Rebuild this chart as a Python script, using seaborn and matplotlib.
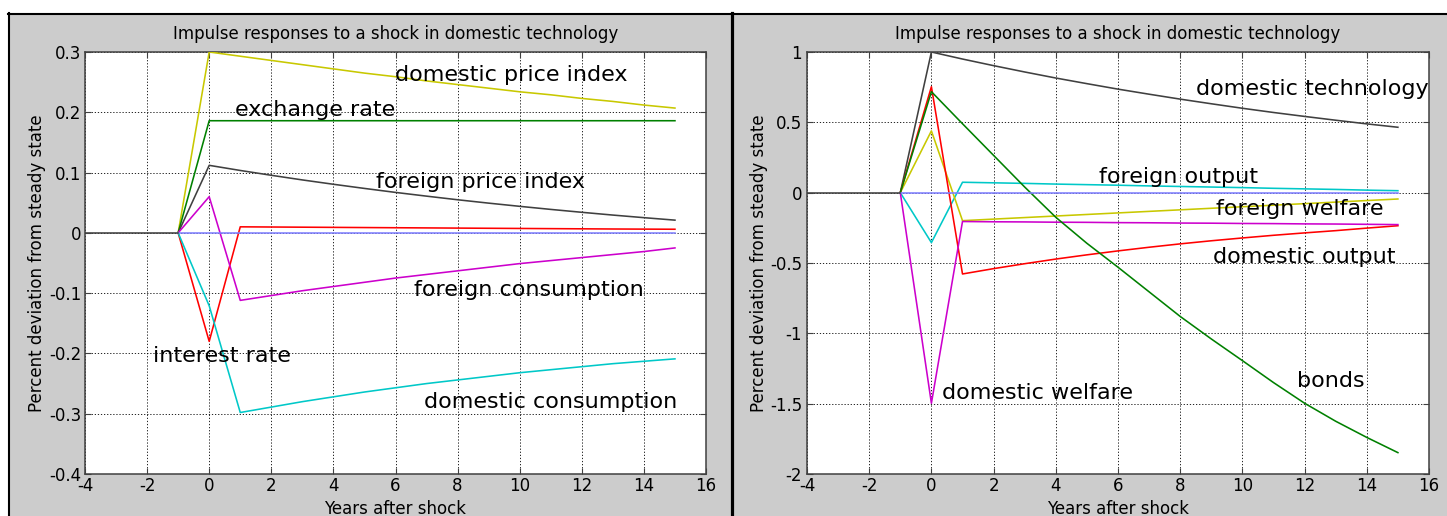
import matplotlib
matplotlib.use("Agg")
import matplotlib.pyplot as plt
import seaborn as sns
import pandas as pd
from matplotlib.lines import Line2D
from matplotlib.patches import Rectangle

# ---- data: responses by year after the shock (year -1 is the steady state) ----
years = [-1, 0, 1, 2, 3, 4, 5, 6, 7, 8, 9, 10, 11, 12, 13, 14, 15]
pre_years = [-4, -3, -2, -1]
pre_values = [0, 0, 0, 0]

# left panel: prices, exchange rate, interest rate, consumption
domestic_price_index = [0, 0.300, 0.293, 0.286, 0.279, 0.272, 0.265, 0.259, 0.252,
                        0.246, 0.240, 0.234, 0.229, 0.223, 0.218, 0.212, 0.207]
exchange_rate = [0, 0.186, 0.186, 0.186, 0.186, 0.186, 0.186, 0.186, 0.186,
                 0.186, 0.186, 0.186, 0.186, 0.186, 0.186, 0.186, 0.186]
foreign_price_index = [0, 0.112, 0.1035, 0.0955, 0.0878, 0.0806, 0.0737, 0.0671, 0.0609,
                       0.0549, 0.0493, 0.0440, 0.0389, 0.0341, 0.0295, 0.0252, 0.0211]
interest_rate = [0, -0.180, 0.0100, 0.0097, 0.0094, 0.0091, 0.0088, 0.0085, 0.0082,
                 0.0079, 0.0076, 0.0073, 0.0070, 0.0067, 0.0064, 0.0062, 0.0060]
foreign_consumption = [0, 0.060, -0.112, -0.104, -0.096, -0.089, -0.082, -0.075, -0.069,
                       -0.063, -0.057, -0.051, -0.046, -0.041, -0.036, -0.031, -0.025]
domestic_consumption = [0, -0.121, -0.298, -0.289, -0.280, -0.272, -0.264, -0.257, -0.250,
                        -0.244, -0.238, -0.232, -0.227, -0.222, -0.217, -0.213, -0.209]
flat_left = [0, 0, 0, 0, 0, 0, 0, 0, 0, 0, 0, 0, 0, 0, 0, 0, 0]

# right panel: technology, output, welfare, bonds
domestic_technology = [0, 1.000, 0.950, 0.903, 0.858, 0.815, 0.775, 0.736, 0.700,
                       0.665, 0.632, 0.600, 0.570, 0.542, 0.515, 0.489, 0.465]
foreign_output = [0, -0.355, 0.074, 0.070, 0.066, 0.061, 0.057, 0.053, 0.048,
                  0.044, 0.040, 0.036, 0.031, 0.027, 0.023, 0.018, 0.014]
foreign_welfare = [0, 0.439, -0.199, -0.188, -0.177, -0.166, -0.155, -0.144, -0.133,
                   -0.122, -0.111, -0.100, -0.089, -0.078, -0.067, -0.056, -0.045]
domestic_output = [0, 0.753, -0.578, -0.540, -0.505, -0.472, -0.442, -0.414, -0.388,
                   -0.364, -0.342, -0.322, -0.303, -0.286, -0.270, -0.252, -0.235]
domestic_welfare = [0, -1.497, -0.205, -0.207, -0.208, -0.210, -0.211, -0.213, -0.214,
                    -0.216, -0.217, -0.219, -0.220, -0.222, -0.223, -0.225, -0.227]
bonds = [0, 0.718, 0.490, 0.265, 0.040, -0.175, -0.360, -0.530, -0.705,
         -0.880, -1.040, -1.194, -1.350, -1.497, -1.625, -1.740, -1.848]
flat_right = [0, 0, 0, 0, 0, 0, 0, 0, 0, 0, 0, 0, 0, 0, 0, 0, 0]

left_names = ["domestic price index", "exchange rate", "foreign price index",
              "interest rate", "foreign consumption", "domestic consumption", "zero"]
left_values = [domestic_price_index, exchange_rate, foreign_price_index,
               interest_rate, foreign_consumption, domestic_consumption, flat_left]
right_names = ["domestic technology", "foreign output", "foreign welfare",
               "domestic output", "domestic welfare", "bonds", "zero"]
right_values = [domestic_technology, foreign_output, foreign_welfare,
                domestic_output, domestic_welfare, bonds, flat_right]

left_ticks = [-0.4, -0.3, -0.2, -0.1, 0, 0.1, 0.2, 0.3]
left_ticklabels = ["-0.4", "-0.3", "-0.2", "-0.1", "0", "0.1", "0.2", "0.3"]
right_ticks = [-2, -1.5, -1, -0.5, 0, 0.5, 1]
right_ticklabels = ["-2", "-1.5", "-1", "-0.5", "0", "0.5", "1"]
x_ticks = [-4, -2, 0, 2, 4, 6, 8, 10, 12, 14, 16]
x_ticklabels = ["-4", "-2", "0", "2", "4", "6", "8", "10", "12", "14", "16"]

# ---- styling ----
YELLOW, GREEN, GREY = "#c8c800", "#008000", "#404040"
RED, MAGENTA, CYAN, BLUE = "#ff0000", "#cc00cc", "#00c8c8", "#8080ff"

left_palette = {"domestic price index": YELLOW, "exchange rate": GREEN,
                "foreign price index": GREY, "interest rate": RED,
                "foreign consumption": MAGENTA, "domestic consumption": CYAN,
                "zero": BLUE}
right_palette = {"domestic technology": GREY, "foreign output": CYAN,
                 "foreign welfare": YELLOW, "domestic output": RED,
                 "domestic welfare": MAGENTA, "bonds": GREEN, "zero": BLUE}

# label text and its (x, y) anchor in data units
left_labels = [("domestic price index", 9.74, 0.252),
               ("exchange rate", 3.41, 0.194),
               ("foreign price index", 8.74, 0.0745),
               ("foreign consumption", 10.3, -0.105),
               ("interest rate", 0.41, -0.2136),
               ("domestic consumption", 10.99, -0.290)]
right_labels = [("domestic technology", 12.25, 0.694),
                ("foreign output", 7.96, 0.0666),
                ("foreign welfare", 11.86, -0.159),
                ("domestic output", 12.0, -0.502),
                ("bonds", 12.85, -1.384),
                ("domestic welfare", 3.40, -1.469)]

plt.rcParams["font.family"] = ["DejaVu Sans"]

W, H = 1447, 516
fig = plt.figure(figsize=(W / 100, H / 100), dpi=100, facecolor="white")

# window frames: grey backgrounds with black borders
fig.add_artist(Rectangle((8 / W, 0), 1 - 8 / W, 1 - 13 / H, transform=fig.transFigure,
                         facecolor="#cccccc", edgecolor="none", zorder=0))
fig.add_artist(Line2D([8 / W, 1], [1 - 14 / H, 1 - 14 / H], transform=fig.transFigure,
                      color="black", lw=1.5))
fig.add_artist(Line2D([9 / W, 9 / W], [0, 1 - 13 / H], transform=fig.transFigure,
                      color="black", lw=1.5))
fig.add_artist(Line2D([731.5 / W, 731.5 / W], [0, 1 - 13 / H], transform=fig.transFigure,
                      color="black", lw=2.3))

ax_h = (474 - 52) / H
ax_left = fig.add_axes([85 / W, 1 - 474 / H, (706 - 85) / W, ax_h])
ax_right = fig.add_axes([807 / W, 1 - 474 / H, (1429 - 807) / W, ax_h])


def draw_panel(ax, names, values, palette, ylim, yticks, yticklabels, labels, ypad):
    frame = pd.DataFrame({
        "year": years * len(names),
        "response": [v for series in values for v in series],
        "series": [n for n in names for _ in years],
    })
    ax.set_facecolor("white")
    sns.lineplot(data=frame, x="year", y="response", hue="series", hue_order=names,
                 palette=palette, estimator=None, sort=False, legend=False,
                 linewidth=1.15, ax=ax, zorder=3)
    sns.lineplot(x=pre_years, y=pre_values, color=GREY, linewidth=1.15,
                 estimator=None, sort=False, ax=ax, zorder=4)
    ax.set_xlim(-4, 16)
    ax.set_ylim(*ylim)
    ax.set_xticks(x_ticks)
    ax.set_xticklabels(x_ticklabels)
    ax.set_yticks(yticks)
    ax.set_yticklabels(yticklabels)
    ax.grid(True, color="black", linestyle=(0, (1.5, 2.2)), linewidth=0.6)
    ax.set_axisbelow(True)
    for side in ("left", "bottom", "top", "right"):
        ax.spines[side].set_color("#404040")
        ax.spines[side].set_linewidth(1.1)
    ax.tick_params(axis="both", direction="in", length=4, width=0.8, color="#404040",
                   top=True, right=True, labelsize=12, labelcolor="black")
    ax.tick_params(axis="x", pad=2)
    ax.tick_params(axis="y", pad=ypad)
    ax.set_xlabel("")
    ax.set_ylabel("")
    ax.text(0.5, (474 - 39) / 422, "Impulse responses to a shock in domestic technology",
            transform=ax.transAxes, ha="center", va="baseline", fontsize=12)
    ax.text(0.5, -(514 - 474) / 422, "Years after shock", transform=ax.transAxes,
            ha="center", va="baseline", fontsize=12)
    ax.text(-47.5 / 621, 0.5, "Percent deviation from steady state", transform=ax.transAxes,
            ha="center", va="center", rotation=90, fontsize=12)
    for text, x, y in labels:
        ax.text(x, y, text, ha="center", va="baseline", fontsize=16, zorder=5)


draw_panel(ax_left, left_names, left_values, left_palette, (-0.4, 0.3),
           left_ticks, left_ticklabels, left_labels, 2.4)
draw_panel(ax_right, right_names, right_values, right_palette, (-2, 1),
           right_ticks, right_ticklabels, right_labels, 3.5)

fig.savefig("out.png", dpi=100, facecolor=fig.get_facecolor())
